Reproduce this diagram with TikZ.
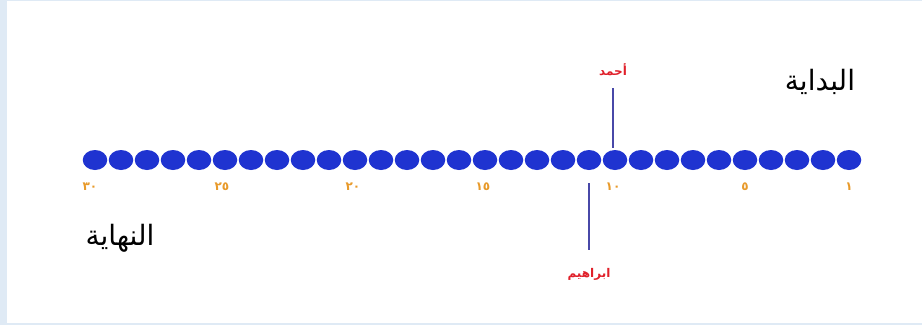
\documentclass[tikz,border=0pt]{standalone}
\usepackage{fontspec}
\usetikzlibrary{shapes.geometric}
\TeXXeTstate=1
\newfontfamily\arabicfont[Script=Arabic]{DejaVu Sans}
\definecolor{dotblue}{HTML}{1F33D0}
\definecolor{numorange}{HTML}{E89A2A}
\definecolor{namered}{HTML}{E0202A}
\definecolor{linepurple}{HTML}{4848A8}
\definecolor{framebg}{HTML}{DFEAF5}
\tikzset{
  bead/.style={ellipse, fill=dotblue, minimum width=24.5pt, minimum height=20pt, inner sep=0pt},
  numlbl/.style={text=numorange, font=\arabicfont\bfseries\fontsize{12}{14}\selectfont, inner sep=0pt},
  namelbl/.style={text=namered, font=\arabicfont\bfseries\fontsize{12}{15}\selectfont, inner sep=1pt},
  titlelbl/.style={text=black, font=\arabicfont\fontsize{28}{30}\selectfont, inner sep=0pt},
  marker/.style={draw=linepurple, line width=1.1pt}
}
\begin{document}
\begin{tikzpicture}[x=1pt,y=-1pt]
\useasboundingbox (0,0) rectangle (922,325);
\fill[framebg] (0,0) rectangle (922,325);
\fill[white] (7,1) rectangle (922,323);
\foreach \i in {1,...,30} {
  \node[bead] (d\i) at ({849-26*(\i-1)},160) {};
}
\node[numlbl] (n1) at (849,187) {١};
\node[numlbl] (n5) at (745,187) {٥};
\node[numlbl] (n10) at (613,187) {١٠};
\node[numlbl] (n15) at (483,187) {١٥};
\node[numlbl] (n20) at (353,187) {٢٠};
\node[numlbl] (n25) at (222,187) {٢٥};
\node[numlbl] (n30) at (90,187) {٣٠};
\node[namelbl] (ahmad) at (613,70) {\beginR أحمد\endR};
\coordinate (atop) at (613,88);
\coordinate (abot) at (613,148);
\draw[marker] (atop) -- (abot);
\node[namelbl] (ibrahim) at (589,274) {\beginR ابراهيم\endR};
\coordinate (itop) at (589,183);
\coordinate (ibot) at (589,250);
\draw[marker] (itop) -- (ibot);
\node[titlelbl] (start) at (820,82) {\beginR البداية\endR};
\node[titlelbl] (end) at (120,238) {\beginR النهاية\endR};
\end{tikzpicture}
\end{document}
